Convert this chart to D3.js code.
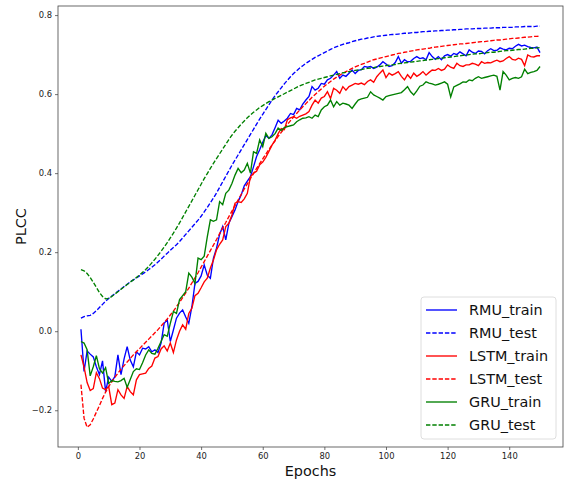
<!DOCTYPE html>
<html>
<head>
<meta charset="utf-8">
<script src="https://cdn.jsdelivr.net/npm/d3@7"></script>
<style>
  body { margin: 0; background: #fff; }
  svg { display: block; font-family: "DejaVu Sans", sans-serif; }
</style>
</head>
<body>
<div id="chart"></div>
<script>
// PLCC per epoch
const epochs = d3.range(1, 151);

const rmuTrain = [
  .005,-.102,-.050,-.058,-.065,-.090,-.110,-.075,-.153,-.116,
  -.127,-.115,-.060,-.110,-.070,-.039,-.073,-.090,-.052,-.060,
  -.043,-.045,-.039,-.052,-.047,-.054,-.030,.020,.029,-.026,
  .003,.033,.046,.054,.036,.020,.062,.121,.126,.140,
  .168,.142,.134,.185,.210,.245,.265,.231,.273,.290,
  .307,.328,.345,.368,.380,.391,.416,.442,.459,.478,
  .495,.488,.497,.515,.534,.526,.532,.539,.551,.548,
  .564,.560,.575,.585,.594,.619,.610,.615,.627,.625,
  .636,.640,.648,.657,.640,.648,.645,.653,.661,.652,
  .660,.662,.670,.668,.670,.665,.668,.674,.682,.676,
  .670,.672,.680,.695,.678,.687,.682,.683,.690,.695,
  .690,.692,.687,.705,.695,.688,.695,.687,.697,.700,
  .696,.703,.700,.707,.702,.697,.712,.706,.703,.709,
  .708,.702,.710,.715,.710,.711,.717,.714,.712,.716,
  .715,.721,.726,.722,.724,.720,.718,.717,.719,.705
];

const rmuTest = [
  .033,.037,.039,.040,.045,.052,.060,.068,.076,.083,
  .089,.095,.101,.107,.113,.119,.125,.130,.135,.140,
  .145,.150,.156,.162,.168,.175,.182,.190,.197,.205,
  .212,.219,.227,.236,.245,.254,.263,.272,.281,.291,
  .302,.313,.325,.337,.350,.364,.378,.392,.406,.420,
  .433,.446,.459,.472,.485,.498,.511,.524,.537,.549,
  .561,.573,.585,.596,.606,.616,.626,.635,.644,.652,
  .659,.666,.672,.678,.683,.688,.693,.697,.701,.705,
  .709,.713,.717,.720,.723,.726,.728,.730,.733,.735,
  .737,.739,.740,.742,.743,.745,.746,.747,.748,.749,
  .750,.751,.751,.752,.753,.754,.754,.755,.756,.756,
  .757,.758,.758,.759,.759,.760,.760,.761,.761,.762,
  .762,.763,.763,.764,.764,.765,.765,.765,.766,.766,
  .766,.767,.767,.767,.768,.768,.768,.769,.769,.769,
  .769,.770,.770,.770,.771,.771,.771,.771,.772,.772
];

const lstmTrain = [
  -.060,-.090,-.130,-.150,-.145,-.105,-.120,-.144,-.148,-.140,
  -.186,-.182,-.148,-.161,-.170,-.140,-.153,-.161,-.123,-.110,
  -.108,-.106,-.094,-.088,-.068,-.064,-.045,-.037,-.050,-.030,
  -.054,-.022,.000,.016,.005,.045,.058,.090,.096,.110,
  .125,.134,.160,.180,.206,.220,.231,.265,.273,.294,
  .324,.328,.326,.335,.349,.391,.400,.405,.421,.428,
  .440,.455,.471,.483,.500,.513,.510,.535,.540,.543,
  .539,.544,.547,.550,.556,.572,.585,.577,.590,.594,
  .606,.589,.615,.610,.602,.619,.610,.619,.623,.627,
  .625,.628,.624,.632,.636,.630,.644,.653,.661,.642,
  .653,.648,.652,.657,.645,.636,.649,.640,.653,.645,
  .650,.657,.648,.655,.661,.660,.665,.660,.663,.674,
  .668,.665,.678,.672,.670,.674,.674,.678,.676,.672,
  .682,.678,.680,.679,.683,.686,.682,.684,.690,.695,
  .688,.686,.691,.688,.672,.699,.695,.694,.697,.697
];

const lstmTest = [
  -.135,-.220,-.243,-.237,-.222,-.205,-.188,-.170,-.154,-.140,
  -.128,-.117,-.106,-.096,-.087,-.078,-.069,-.060,-.052,-.044,
  -.036,-.028,-.020,-.012,-.004,.004,.013,.022,.031,.041,
  .051,.062,.073,.085,.097,.109,.122,.135,.148,.162,
  .176,.190,.204,.218,.232,.247,.261,.275,.290,.304,
  .318,.332,.346,.360,.373,.386,.399,.412,.424,.436,
  .448,.460,.471,.482,.493,.503,.513,.523,.533,.542,
  .551,.560,.568,.576,.584,.592,.599,.606,.613,.620,
  .626,.632,.638,.643,.648,.653,.657,.661,.665,.669,
  .672,.675,.678,.681,.684,.687,.689,.691,.693,.695,
  .697,.699,.701,.703,.704,.706,.707,.709,.710,.712,
  .713,.714,.715,.716,.718,.719,.720,.721,.722,.723,
  .724,.725,.726,.727,.727,.728,.729,.730,.731,.732,
  .733,.733,.734,.735,.736,.737,.737,.738,.739,.740,
  .741,.741,.742,.743,.744,.744,.745,.746,.746,.747
];

const gruTrain = [
  -.026,-.030,-.047,-.113,-.090,-.062,-.095,-.106,-.092,-.132,
  -.125,-.127,-.128,-.125,-.119,-.142,-.122,-.102,-.095,-.097,
  -.080,-.060,-.047,-.056,-.058,-.043,-.026,-.009,-.013,.020,
  .050,.045,.080,.090,.100,.147,.137,.121,.185,.181,
  .190,.239,.282,.278,.282,.328,.320,.349,.357,.374,
  .395,.412,.401,.408,.425,.400,.454,.450,.484,.467,
  .501,.488,.492,.500,.514,.508,.515,.518,.520,.522,
  .530,.535,.539,.540,.543,.539,.547,.543,.560,.568,
  .572,.585,.568,.581,.572,.577,.575,.572,.564,.575,
  .585,.588,.590,.592,.606,.598,.594,.590,.585,.594,
  .596,.598,.600,.602,.604,.611,.619,.606,.598,.608,
  .620,.623,.631,.628,.626,.623,.625,.628,.631,.625,
  .593,.618,.622,.626,.631,.630,.636,.634,.640,.644,
  .640,.642,.644,.646,.648,.645,.610,.657,.648,.636,
  .640,.642,.640,.644,.663,.652,.655,.657,.660,.670
];

const gruTest = [
  .156,.153,.146,.136,.124,.111,.098,.088,.082,.083,
  .088,.094,.100,.106,.112,.118,.124,.130,.136,.142,
  .149,.156,.164,.173,.182,.192,.202,.213,.224,.236,
  .248,.261,.274,.288,.302,.316,.330,.344,.358,.372,
  .386,.399,.412,.425,.437,.449,.461,.473,.485,.496,
  .506,.515,.524,.532,.540,.547,.554,.560,.566,.571,
  .576,.581,.585,.589,.593,.597,.601,.605,.609,.613,
  .617,.621,.624,.627,.630,.633,.636,.638,.640,.642,
  .644,.646,.648,.650,.652,.654,.655,.657,.658,.660,
  .661,.662,.664,.665,.666,.667,.669,.670,.671,.672,
  .673,.674,.675,.677,.678,.679,.680,.681,.682,.683,
  .684,.685,.686,.687,.688,.689,.690,.691,.692,.693,
  .694,.695,.696,.697,.698,.699,.700,.701,.702,.702,
  .703,.704,.705,.706,.706,.707,.708,.709,.710,.710,
  .711,.712,.713,.713,.714,.715,.716,.716,.717,.718
];

const xTicks = [0, 20, 40, 60, 80, 100, 120, 140];
const yTicks = [-0.2, 0.0, 0.2, 0.4, 0.6, 0.8];

const series = [
  { name: 'RMU_train',  values: rmuTrain,  color: '#0000ff', dashed: false },
  { name: 'RMU_test',   values: rmuTest,   color: '#0000ff', dashed: true },
  { name: 'LSTM_train', values: lstmTrain, color: '#ff0000', dashed: false },
  { name: 'LSTM_test',  values: lstmTest,  color: '#ff0000', dashed: true },
  { name: 'GRU_train',  values: gruTrain,  color: '#008000', dashed: false },
  { name: 'GRU_test',   values: gruTest,   color: '#008000', dashed: true }
];

const width = 572, height = 481;
const margin = { top: 6, right: 9, bottom: 34, left: 58 };

const svg = d3.select('#chart')
  .append('svg')
  .attr('width', width)
  .attr('height', height);

// matplotlib style 5% margins around the data
const xScale = d3.scaleLinear()
  .domain([-6.45, 157.45])
  .range([margin.left, width - margin.right]);

const yScale = d3.scaleLinear()
  .domain([-0.293, 0.823])
  .range([height - margin.bottom, margin.top]);

const line = d3.line()
  .x(d => xScale(d[0]))
  .y(d => yScale(d[1]));

series.forEach(s => {
  svg.append('path')
    .datum(epochs.map((e, i) => [e, s.values[i]]))
    .attr('fill', 'none')
    .attr('stroke', s.color)
    .attr('stroke-width', 1.35)
    .attr('stroke-dasharray', s.dashed ? '4.4,1.9' : null)
    .attr('d', line);
});

// axes
const fmt = d => d3.format('.1f')(d).replace('-', '\u2212');

svg.append('g')
  .attr('transform', `translate(0,${height - margin.bottom})`)
  .call(d3.axisBottom(xScale).tickValues(xTicks).tickSize(3).tickPadding(3))
  .call(g => g.select('.domain').remove())
  .call(g => g.selectAll('line').attr('stroke', '#333').attr('stroke-width', 0.7))
  .call(g => g.selectAll('text').attr('font-size', 8.4).attr('fill', '#222')
    .attr('font-family', 'DejaVu Sans'));

svg.append('g')
  .attr('transform', `translate(${margin.left},0)`)
  .call(d3.axisLeft(yScale).tickValues(yTicks).tickFormat(fmt).tickSize(3).tickPadding(3))
  .call(g => g.select('.domain').remove())
  .call(g => g.selectAll('line').attr('stroke', '#333').attr('stroke-width', 0.7))
  .call(g => g.selectAll('text').attr('font-size', 8.4).attr('fill', '#222')
    .attr('font-family', 'DejaVu Sans'));

// frame
svg.append('rect')
  .attr('x', margin.left)
  .attr('y', margin.top)
  .attr('width', width - margin.left - margin.right)
  .attr('height', height - margin.top - margin.bottom)
  .attr('fill', 'none')
  .attr('stroke', '#444')
  .attr('stroke-width', 0.8);

// axis labels
svg.append('text')
  .attr('x', (margin.left + width - margin.right) / 2)
  .attr('y', 476)
  .attr('text-anchor', 'middle')
  .attr('font-size', 14.4)
  .attr('fill', '#111')
  .text('Epochs');

svg.append('text')
  .attr('transform', `translate(26,${(margin.top + height - margin.bottom) / 2}) rotate(-90)`)
  .attr('text-anchor', 'middle')
  .attr('font-size', 14.4)
  .attr('fill', '#111')
  .text('PLCC');

// legend
const legend = svg.append('g').attr('transform', 'translate(421,297)');
legend.append('rect')
  .attr('width', 135)
  .attr('height', 142)
  .attr('rx', 3)
  .attr('fill', 'rgba(255,255,255,0.8)')
  .attr('stroke', '#d6d6d6')
  .attr('stroke-width', 0.8);

series.forEach((s, i) => {
  const y = 13 + i * 23;
  legend.append('line')
    .attr('x1', 5).attr('x2', 36)
    .attr('y1', y).attr('y2', y)
    .attr('stroke', s.color)
    .attr('stroke-width', 1.35)
    .attr('stroke-dasharray', s.dashed ? '4.4,1.9' : null);
  legend.append('text')
    .attr('x', 48)
    .attr('y', y)
    .attr('dy', '0.36em')
    .attr('font-size', 14.4)
    .attr('fill', '#111')
    .text(s.name);
});
</script>
</body>
</html>
